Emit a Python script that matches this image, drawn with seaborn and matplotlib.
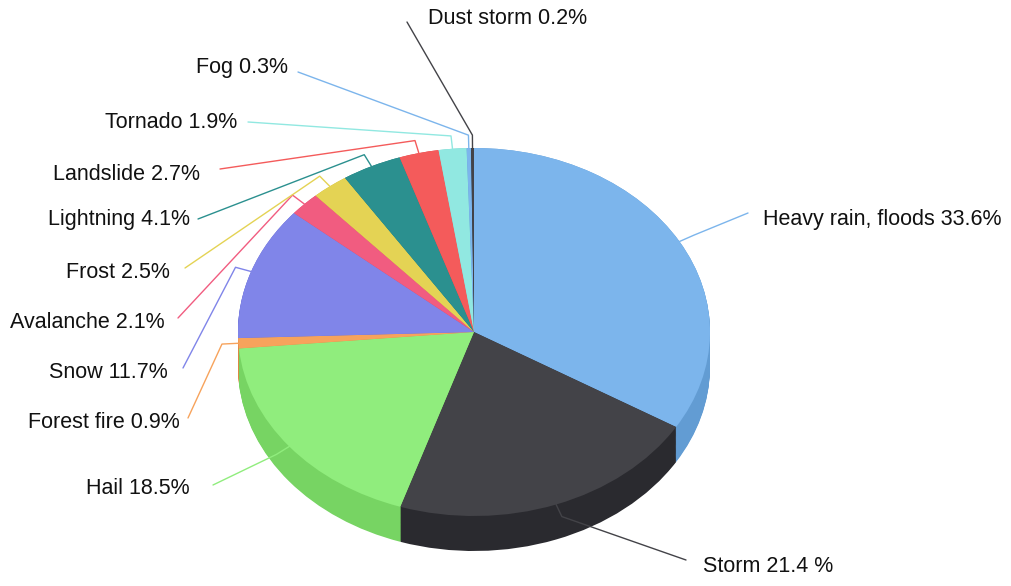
import numpy as np
import matplotlib
matplotlib.use("Agg")
import matplotlib.pyplot as plt
import seaborn as sns

# data (clockwise from 12 o'clock)
categories = ["Heavy rain, floods", "Storm", "Hail", "Forest fire", "Snow", "Avalanche",
              "Frost", "Lightning", "Landslide", "Tornado", "Fog", "Dust storm"]
shares = [33.6, 21.4, 18.5, 0.9, 11.7, 2.1, 2.5, 4.1, 2.7, 1.9, 0.3, 0.2]
share_texts = ["33.6%", "21.4 %", "18.5%", "0.9%", "11.7%", "2.1%",
               "2.5%", "4.1%", "2.7%", "1.9%", "0.3%", "0.2%"]
base_colors = ["#7cb5ec", "#434348", "#90ed7d", "#f7a35c", "#8085e9",
               "#f15c80", "#e4d354", "#2b908f", "#f45b5b", "#91e8e1"]

# layout in pixels: (text x, text y, align, connector end x, connector end y)
label_layout = [
    (763, 219, "left", 748, 213),
    (703, 567, "left", 686, 560),
    (190, 489, "right", 213, 485),
    (180, 422, "right", 188, 418),
    (168, 372, "right", 183, 368),
    (165, 323, "right", 178, 318),
    (170, 272, "right", 185, 268),
    (190, 220, "right", 198, 219),
    (200, 175, "right", 220, 169),
    (237, 123, "right", 248, 122),
    (288, 68, "right", 298, 72),
    (428, 18, "left", 407, 22),
]

W, H = 1012, 586
CX, CY, RX, RY = 474, 332, 236, 184   # ellipse of the top face, pixels
DEPTH = 35 / RY                        # side height in data units


def to_data(px, py):
    return (px - CX) / RX, (CY - py) / RY


sns.set_theme(style="white")
plt.rcParams["font.family"] = ["Liberation Sans", "DejaVu Sans"]

colors = sns.color_palette(base_colors, n_colors=len(shares))
side_colors = [tuple(max(c - 0.1, 0) for c in col) for col in colors]

fig = plt.figure(figsize=(W / 100, H / 100), dpi=100)
ax = fig.add_axes([0, 0, 1, 1])

# side wall: stack of darker pies shifted downwards
for off in np.linspace(DEPTH, 0, 40):
    ax.pie(shares, colors=side_colors, startangle=90, counterclock=False,
           center=(0, -off), radius=1, wedgeprops=dict(linewidth=0))

# top face
ax.pie(shares, colors=colors, startangle=90, counterclock=False,
       radius=1, wedgeprops=dict(linewidth=0))

# labels and connectors
total = sum(shares)
cum = np.cumsum([0] + shares)
for i, (cat, txt) in enumerate(zip(categories, share_texts)):
    mid = 90 - 360 * (cum[i] + shares[i] / 2) / total
    a = np.deg2rad(mid)
    sx, sy = np.cos(a), np.sin(a)
    tx, ty, ha, ex, ey = label_layout[i]
    ex, ey = to_data(ex, ey)
    ax.plot([sx, sx * 1.07, ex], [sy, sy * 1.07, ey], color=colors[i],
            lw=1.0, zorder=5, solid_capstyle="round")
    tx, ty = to_data(tx, ty)
    ax.text(tx, ty, f"{cat} {txt}", ha=ha, va="center", fontsize=15.5,
            color="#111111", zorder=6)

ax.set_aspect("auto")
ax.set_xlim(to_data(0, 0)[0], to_data(W, 0)[0])
ax.set_ylim(to_data(0, H)[1], to_data(0, 0)[1])
ax.axis("off")

fig.savefig("out.png", dpi=100)
